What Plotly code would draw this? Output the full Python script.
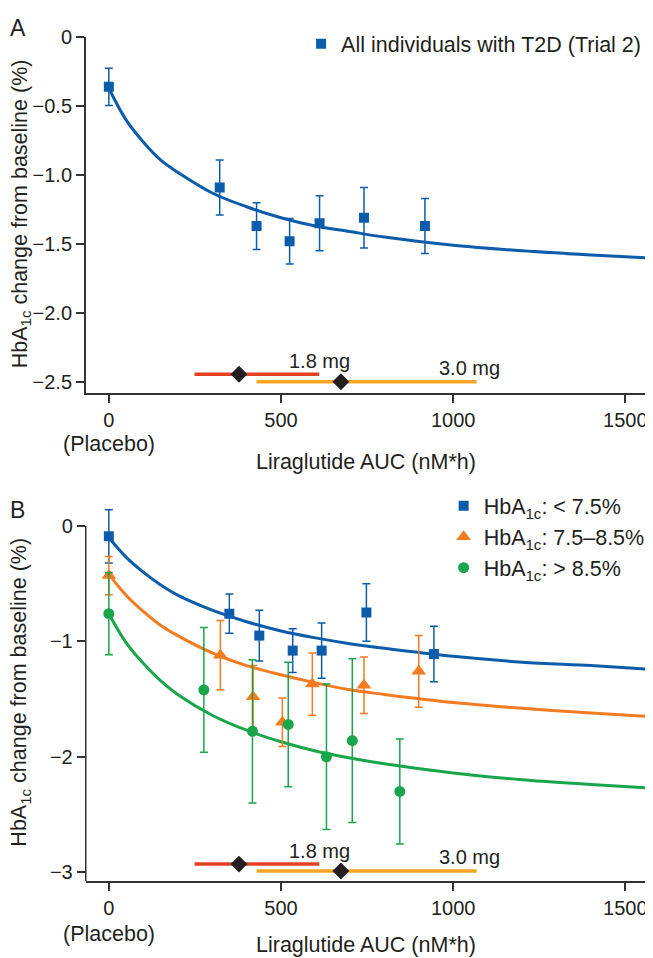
import plotly.graph_objects as go

# ---- panel A: all individuals with T2D (Trial 2)
auc_a = [0, 322, 429, 525, 612, 741, 918]
hba_a = [-0.36, -1.09, -1.37, -1.48, -1.35, -1.31, -1.37]
err_a = [0.135, 0.20, 0.17, 0.165, 0.20, 0.22, 0.20]

# fitted curves
curve_x = [0, 50, 100, 150, 200, 300, 400, 500, 600, 700, 800, 1000, 1200, 1400, 1560]
curve_a = [-0.37, -0.60, -0.76, -0.89, -0.98, -1.13, -1.23, -1.31, -1.37, -1.41, -1.45, -1.51, -1.55, -1.58, -1.60]

# ---- panel B: by baseline HbA1c
auc_lo = [0, 350, 437, 534, 618, 748, 944]
hba_lo = [-0.09, -0.76, -0.95, -1.08, -1.08, -0.75, -1.11]
err_lo = [0.23, 0.17, 0.22, 0.19, 0.24, 0.25, 0.24]

auc_mid = [0, 324, 419, 504, 591, 741, 900]
hba_mid = [-0.43, -1.12, -1.48, -1.70, -1.37, -1.38, -1.26]
err_mid = [0.165, 0.30, 0.27, 0.21, 0.27, 0.245, 0.31]

auc_hi = [0, 276, 417, 521, 632, 707, 845]
hba_hi = [-0.76, -1.42, -1.78, -1.72, -2.00, -1.86, -2.30]
err_hi = [0.355, 0.54, 0.62, 0.54, 0.63, 0.71, 0.455]

curve_lo = [-0.10, -0.27, -0.40, -0.51, -0.60, -0.73, -0.83, -0.91, -0.97, -1.02, -1.06, -1.13, -1.18, -1.21, -1.24]
curve_mid = [-0.42, -0.60, -0.74, -0.86, -0.95, -1.10, -1.21, -1.29, -1.36, -1.42, -1.46, -1.53, -1.58, -1.62, -1.65]
curve_hi = [-0.76, -1.01, -1.19, -1.34, -1.46, -1.64, -1.77, -1.87, -1.95, -2.01, -2.06, -2.14, -2.20, -2.24, -2.27]

# exposure ranges per dose (AUC, nM*h)
doses = ["1.8 mg", "3.0 mg"]
dose_auc_min = [249, 429]
dose_auc_max = [611, 1068]
dose_auc_med = [378, 674]

BLUE = "#0b5dab"
ORANGE = "#f47b20"
GREEN = "#19a64b"
DOSE_COLS = ["#e2401e", "#f5a52a"]
TXT = "#231f20"
FONT = "Arial, Liberation Sans, Helvetica, sans-serif"
BIG = 21.5  # legend / axis titles

# page body has an 8px margin, so the figure is a bit smaller than the window
OFF = 8
W, H = 653 - OFF, 958 - OFF


def px(x):  # window pixel -> paper x
    return (x - OFF) / W


def py(y):  # window pixel -> paper y
    return 1 - (y - OFF) / H


fig = go.Figure()


def add_points(xs, ys, es, color, symbol, size, name, xa, ya, legend):
    fig.add_trace(go.Scatter(
        x=xs, y=ys, mode="markers", name=name, xaxis=xa, yaxis=ya, legend=legend,
        marker=dict(color=color, symbol=symbol, size=size),
        error_y=dict(type="data", array=es, color=color, thickness=1.5, width=4),
    ))


def add_curve(ys, color, xa, ya):
    fig.add_trace(go.Scatter(x=curve_x, y=ys, mode="lines", line=dict(color=color, width=3, shape="spline"),
                             xaxis=xa, yaxis=ya, showlegend=False, hoverinfo="skip"))


def add_doses(xa, ya, ys):
    for i in range(len(doses)):
        fig.add_trace(go.Scatter(x=[dose_auc_min[i], dose_auc_max[i]], y=[ys[i], ys[i]], mode="lines",
                                 line=dict(color=DOSE_COLS[i], width=3.5), xaxis=xa, yaxis=ya, showlegend=False))
    for i in range(len(doses)):
        fig.add_trace(go.Scatter(x=[dose_auc_med[i]], y=[ys[i]], mode="markers",
                                 marker=dict(symbol="diamond", color="#231f20", size=13),
                                 xaxis=xa, yaxis=ya, showlegend=False))
        fig.add_annotation(x=dose_auc_max[i], y=ys[i], xref=xa, yref=ya, text=doses[i], showarrow=False,
                           xanchor="right", yanchor="middle", xshift=[33, 25][i], yshift=[13, 14][i],
                           font=dict(size=20, color=TXT, family=FONT))


# panel A
add_curve(curve_a, BLUE, "x", "y")
add_points(auc_a, hba_a, err_a, BLUE, "square", 10, "All individuals with T2D (Trial 2)", "x", "y", "legend")
add_doses("x", "y", [-2.445, -2.5])

# panel B
add_curve(curve_lo, BLUE, "x2", "y2")
add_curve(curve_mid, ORANGE, "x2", "y2")
add_curve(curve_hi, GREEN, "x2", "y2")
add_points(auc_lo, hba_lo, err_lo, BLUE, "square", 10, "HbA<sub>1c</sub>: &lt; 7.5%", "x2", "y2", "legend2")
add_points(auc_mid, hba_mid, err_mid, ORANGE, "triangle-up", 13, "HbA<sub>1c</sub>: 7.5–8.5%", "x2", "y2", "legend2")
add_points(auc_hi, hba_hi, err_hi, GREEN, "circle", 11, "HbA<sub>1c</sub>: &gt; 8.5%", "x2", "y2", "legend2")
add_doses("x2", "y2", [-2.93, -2.99])

xax = dict(domain=[px(86), px(648)], range=[-67, 1560], tickvals=[0, 500, 1000, 1500], ticks="outside",
           ticklen=8, tickwidth=1.5, tickcolor="#333", showline=True, linecolor="#333", linewidth=1.5,
           showgrid=False, zeroline=False, tickfont=dict(size=20, color=TXT, family=FONT))
yax = dict(ticks="outside", ticklen=8, tickwidth=1.5, tickcolor="#333", showgrid=False, zeroline=False,
           tickfont=dict(size=20, color=TXT, family=FONT))

fig.update_layout(
    width=W, height=H, margin=dict(l=0, r=0, t=0, b=0),
    paper_bgcolor="white", plot_bgcolor="white",
    font=dict(family=FONT, size=20, color=TXT),
    xaxis=dict(xax, anchor="y"),
    yaxis=dict(yax, anchor="x", domain=[py(387), py(26.5)], range=[-2.58, 0],
               tickvals=[0, -0.5, -1.0, -1.5, -2.0, -2.5],
               ticktext=["0", "−0.5", "−1.0", "−1.5", "−2.0", "−2.5"],
               showline=True, linecolor="#333", linewidth=1.5),
    xaxis2=dict(xax, anchor="y2"),
    yaxis2=dict(yax, anchor="x2", domain=[py(882), py(498.6)], range=[-3.077, 0.2],
                tickvals=[0, -1, -2, -3], ticktext=["0", "−1", "−2", "−3"], showline=False),
    legend=dict(x=px(302), y=py(33), xanchor="left", yanchor="middle", bgcolor="rgba(0,0,0,0)",
                font=dict(size=BIG, color=TXT, family=FONT)),
    legend2=dict(x=px(445), y=py(533), xanchor="left", yanchor="middle", bgcolor="rgba(0,0,0,0)",
                 font=dict(size=BIG, color=TXT, family=FONT), tracegroupgap=0),
    showlegend=True,
)

# y-axis line of panel B only runs from 0 down
fig.add_shape(type="line", xref="x2 domain", x0=0, x1=0, yref="y2", y0=-3.077, y1=0,
              line=dict(color="#333", width=1.5))

# panel letters, axis titles, placebo labels (kept clear of the page margin)
for letter, ypx in [("A", 17), ("B", 506)]:
    fig.add_annotation(x=px(18), y=py(ypx), xref="paper", yref="paper", text=letter, showarrow=False,
                       xanchor="center", yanchor="middle", font=dict(size=23, color=TXT, family=FONT))
for ypx in [205, 690]:
    fig.add_annotation(x=px(21), y=py(ypx), xref="paper", yref="paper", textangle=-90,
                       text="HbA<sub>1c</sub> change from baseline (%)", showarrow=False,
                       xanchor="center", yanchor="middle", font=dict(size=BIG, color=TXT, family=FONT))
for xa, plac_px, title_px in [("x", 439, 457), ("x2", 936, 947)]:
    fig.add_annotation(x=0, y=py(plac_px), xref=xa, yref="paper", text="(Placebo)", showarrow=False,
                       xanchor="center", yanchor="middle", font=dict(size=BIG, color=TXT, family=FONT))
    fig.add_annotation(x=0.5, y=py(title_px), xref=xa + " domain", yref="paper",
                       text="Liraglutide AUC (nM*h)", showarrow=False,
                       xanchor="center", yanchor="middle", font=dict(size=BIG, color=TXT, family=FONT))

fig.write_html("out.html")
